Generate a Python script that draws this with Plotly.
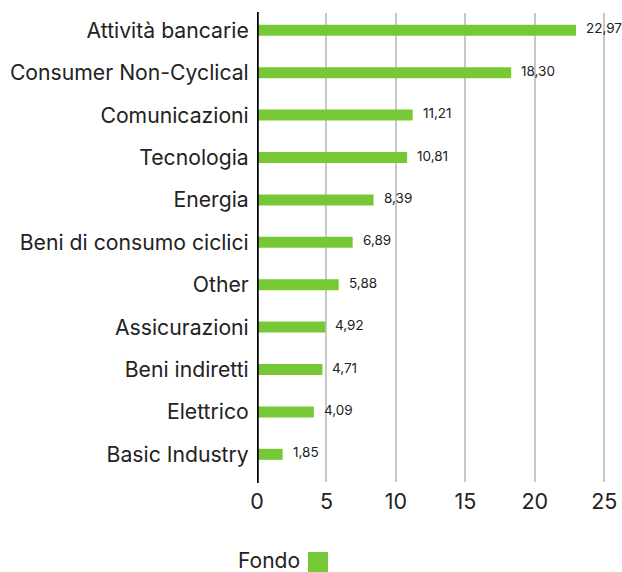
import plotly.graph_objects as go

categories = ["Attività bancarie", "Consumer Non-Cyclical", "Comunicazioni", "Tecnologia",
              "Energia", "Beni di consumo ciclici", "Other", "Assicurazioni",
              "Beni indiretti", "Elettrico", "Basic Industry"]
values = [22.97, 18.30, 11.21, 10.81, 8.39, 6.89, 5.88, 4.92, 4.71, 4.09, 1.85]
value_labels = ["22,97", "18,30", "11,21", "10,81", "8,39", "6,89", "5,88", "4,92", "4,71", "4,09", "1,85"]
x_ticks = [0, 5, 10, 15, 20, 25]
series_name = "Fondo"

GREEN = "#76c935"
FONT = "Inter"

fig = go.Figure()
fig.add_trace(go.Bar(
    y=categories, x=values, orientation="h",
    marker=dict(color=GREEN, line=dict(width=0)),
    width=0.26, name=series_name, showlegend=False,
    hoverinfo="skip",
))

for c, v, t in zip(categories, values, value_labels):
    fig.add_annotation(x=v, y=c, xref="x", yref="y", text=t, showarrow=False,
                       xanchor="left", xshift=8, yshift=2,
                       font=dict(family=FONT, size=13.5, color="#222"))

# y axis thick black line
fig.add_shape(type="line", xref="x", yref="paper", x0=0, x1=0, y0=-0.002, y1=1.002,
              line=dict(color="black", width=3.5), layer="above")

# legend (text before square)
fig.add_annotation(xref="paper", yref="paper", x=0.1286, y=-0.1684, text=series_name,
                   showarrow=False, xanchor="right", yanchor="middle",
                   font=dict(family=FONT, size=21, color="#222"))
fig.add_shape(type="rect", xref="paper", yref="paper", x0=0.1457, x1=0.2029,
              y0=-0.1493, y1=-0.1919, fillcolor=GREEN, line=dict(width=0))

fig.update_layout(
    width=622, height=572,
    margin=dict(l=257, r=15, t=13, b=90),
    paper_bgcolor="white", plot_bgcolor="white",
    font=dict(family=FONT, color="#222"),
    bargap=0.7,
)
fig.update_xaxes(range=[0, 25.2], tickvals=x_ticks, ticktext=[str(v) for v in x_ticks],
                 automargin=False,
                 showgrid=True, gridcolor="#c8c8c8", gridwidth=2, zeroline=False,
                 showline=False, ticks="outside", ticklen=0, tickcolor="rgba(0,0,0,0)",
                 tickfont=dict(family=FONT, size=21.5, color="#222"), fixedrange=True)
fig.update_yaxes(categoryorder="array", categoryarray=categories[::-1],
                 range=[-0.653, 10.408],
                 automargin=False,
                 showgrid=False, zeroline=False, showline=False,
                 ticks="outside", ticklen=3, tickcolor="rgba(0,0,0,0)",
                 tickfont=dict(family=FONT, size=21.2, color="#222"), fixedrange=True)

fig.write_html("out.html", config={"displayModeBar": False},
               post_script="document.body.style.margin='0';document.body.style.overflow='hidden';")
